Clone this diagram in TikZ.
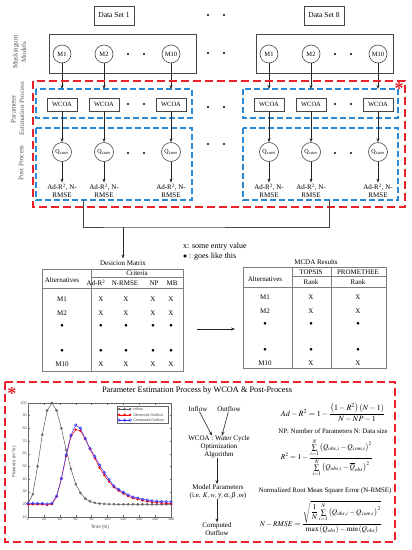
\documentclass[tikz,border=0pt]{standalone}
\usepackage{amsmath}
\usepackage{mathptmx}
\usepackage{fontspec}
\setmainfont{Liberation Serif}
\newfontfamily\plotfont{Liberation Sans}
\usetikzlibrary{arrows.meta,positioning,plotmarks}

\definecolor{dashred}{RGB}{232,34,40}
\definecolor{dashblue}{RGB}{40,138,214}
\definecolor{linegray}{RGB}{70,70,70}
\definecolor{tabgray}{RGB}{125,125,125}

\tikzset{
  gbox/.style={draw=linegray, line width=0.7pt},
  dsbox/.style={gbox, minimum width=40pt, minimum height=19pt, inner sep=0pt, font=\fontsize{7.5}{8}\selectfont},
  mcirc/.style={circle, draw=linegray, line width=0.6pt, minimum size=18pt, inner sep=0pt, font=\fontsize{6.5}{7}\selectfont},
  qcirc/.style={mcirc, minimum size=19pt, font=\fontsize{6}{7}\selectfont},
  wbox/.style={gbox, minimum width=30pt, minimum height=13pt, inner sep=0pt, font=\fontsize{6.5}{7}\selectfont},
  res/.style={align=center, font=\fontsize{7}{7.5}\selectfont, inner sep=1pt},
  arr/.style={-{Stealth[length=4pt,width=3pt]}, line width=0.6pt, draw=black!85},
  conn/.style={line width=0.6pt, draw=linegray},
  reddash/.style={draw=dashred, line width=1.3pt, dash pattern=on 8pt off 4pt},
  bluedash/.style={draw=dashblue, line width=1.1pt, dash pattern=on 6pt off 3pt},
  side/.style={rotate=90, align=center, text=black!65, font=\fontsize{7}{8.5}\selectfont},
  tab/.style={font=\fontsize{7}{8}\selectfont, inner sep=0pt},
  tline/.style={draw=tabgray, line width=1pt},
  txt/.style={font=\fontsize{7}{8}\selectfont, align=center, inner sep=0pt},
  formula/.style={font=\fontsize{7.4}{8}\selectfont, inner sep=0pt},
  plotlab/.style={font=\plotfont\fontsize{3.7}{4}\selectfont, text=black!70, inner sep=1pt},
  star/.style={text=dashred, font=\fontsize{18}{18}\selectfont\bfseries, inner sep=0pt},
}

\begin{document}
\begin{tikzpicture}[x=1pt,y=-1pt]
\useasboundingbox (0,0) rectangle (412,550);

% side labels
\node[side] at (19.5,52) {Muskingum\\Models};
\node[side] at (17.5,109) {Parameter\\Estimation Process};
\node[side] at (21,163) {Post Process};

% two data sets
\foreach \s/\dx/\bl/\br/\pl/\pr/\ds/\dsx in {a/0/49/196/36/192/1/114, b/207/256/393/243/398/8/324}{
  \node[dsbox] (ds\s) at (\dsx,15.5) {Data Set \ds};
  \draw[gbox] (\bl,34) rectangle (\br,73);
  \draw[bluedash] (\pl,89) rectangle (\pr,118);
  \draw[bluedash] (\pl,128) rectangle (\pr,200);
  \coordinate (pe\s) at (\pl,89);
  \foreach \k/\x in {1/62,2/104,10/171}{
    \node[mcirc] (m\k\s) at (\x+\dx,54) {M\k};
    \node[wbox] (w\k\s) at (\x+\dx,104.5) {WCOA};
    \node[qcirc] (q\k\s) at (\x+\dx,152) {Q$_{com}$};
    \node[res] (r\k\s) at (\x+\dx,190.5) {Ad-R$^2$, N-\\RMSE};
    \draw[arr] (m\k\s) -- (m\k\s |- pe\s);
    \draw[arr] (w\k\s) -- (q\k\s);
    \draw[arr] (q\k\s) -- (r\k\s);
  }
  \foreach \y in {54,104,153}{
    \fill (128+\dx,\y) circle (1.2pt);
    \fill (144+\dx,\y) circle (1.2pt);
  }
}
\foreach \y in {15,53,107,144}{
  \fill (208,\y) circle (1.2pt);
  \fill (224,\y) circle (1.2pt);
}
\draw[reddash] (33,81) rectangle (405,207);
\node[star] at (399,88.5) {*};

%%%% to the decision matrix
\coordinate (pbl) at (83,200);
\coordinate (pbr) at (329,200);
\coordinate (jn) at (123,227);
\node[tab] (dmlab) at (123,263) {Desicion Matrix};
\draw[conn] (pbl) |- (jn) -| (pbr);
\draw[arr] (jn) -- ([yshift=2pt]dmlab.north);

\node[font=\fontsize{8}{9.5}\selectfont, align=left, anchor=west, inner sep=0pt] at (183,251.5) {x: some entry value\\$\bullet$ : goes like this};

% decision matrix
\node[draw=tabgray, line width=1pt, minimum width=141pt, minimum height=102pt, inner sep=0pt] (dmat) at (112.5,320) {};
\draw[tline] (91,269) -- (91,371);
\draw[tline] (91,277) -- (183,277);
\draw[tline] (42,288) -- (183,288);
\node[tab] at (62,280) {Alternatives};
\node[tab] at (137,273) {Criteria};
\foreach \x/\h in {96/Ad-R$^2$, 125/N-RMSE, 154/NP, 172/MB}
  \node[tab] at (\x,283) {\h};
\foreach \y/\a/\v in {299/M1/X, 313/M2/X, 326/$\bullet$/$\bullet$, 351/$\bullet$/$\bullet$, 364/M10/X}{
  \node[tab] at (62,\y) {\a};
  \foreach \x in {101,126,153,171}
    \node[tab] at (\x,\y) {\v};
}

% MCDA results
\node[tab] (mclab) at (316,262) {MCDA Results};
\node[draw=tabgray, line width=1pt, minimum width=143pt, minimum height=101pt, inner sep=0pt] (mcda) at (314.5,317.5) {};
\draw[tline] (292,267) -- (292,368);
\draw[tline] (331,267) -- (331,368);
\draw[tline] (292,276) -- (386,276);
\draw[tline] (243,287) -- (386,287);
\node[tab] at (265,279) {Alternatives};
\node[tab] at (311,272) {TOPSIS};
\node[tab] at (358,272) {PROMETHEE};
\node[tab] at (311,282) {Rank};
\node[tab] at (358,282) {Rank};
\foreach \y/\a/\v in {297/M1/X, 311/M2/X, 324/$\bullet$/$\bullet$, 350/$\bullet$/$\bullet$, 363/M10/X}{
  \node[tab] at (265,\y) {\a};
  \node[tab] at (311,\y) {\v};
  \node[tab] at (358,\y) {\v};
}
\coordinate (ta) at (197,329);
\coordinate (tb) at (235,329);
\draw[arr] (ta) -- (tb);

%%%% parameter estimation process
\draw[reddash] (5,382) rectangle (395,542);
\node[star] at (12,393.5) {*};
\node[font=\fontsize{8.3}{9}\selectfont, inner sep=0pt] (pet) at (197,391) {Parameter Estimation Process by WCOA \& Post-Process};

% hydrograph
\begin{scope}[shift={(28,529.67)}, x=0.795pt, y=1.267pt]
\draw[black!60, line width=0.4pt] (0,10) rectangle (180,100);
\foreach \t in {0,20,...,180}{
  \draw[black!60, line width=0.3pt] (\t,10) -- (\t,11.5) (\t,100) -- (\t,98.5);
  \node[plotlab, below] at (\t,10) {\t};
}
\foreach \v in {10,20,...,100}{
  \draw[black!60, line width=0.3pt] (0,\v) -- (2,\v) (180,\v) -- (178,\v);
  \node[plotlab, left] at (0,\v) {\v};
}
\draw[black!65, line width=0.5pt] plot[mark=o, mark size=1.1pt] coordinates {(0,20.5) (6,28) (12,50) (18,75) (24,94) (30,100) (36,94) (42,80) (48,63) (54,48) (60,36) (66,29) (72,24.5) (78,22.3) (84,21.2) (90,20.6) (96,20.3) (102,20.2) (108,20.1) (114,20) (120,20) (126,20) (132,20) (138,20) (144,20) (150,20) (156,20) (162,20) (168,20) (174,20) (180,20)};
\draw[red, line width=0.5pt] plot[mark=*, mark size=0.9pt] coordinates {(0,20) (6,20) (12,20) (18,20) (24,19.5) (30,20) (36,26) (42,40) (48,58) (54,73.5) (60,79) (66,78) (72,71.5) (78,63.5) (84,56.5) (90,49) (96,43) (102,38) (108,33.5) (114,30.8) (120,28.5) (126,26.4) (132,24.8) (138,24) (144,23) (150,22.4) (156,21.8) (162,21.3) (168,21) (174,20.8) (180,20.6)};
\draw[blue!80, line width=0.5pt] plot[mark=o, mark size=1.3pt] coordinates {(0,20.8) (6,20.8) (12,20.7) (18,20.6) (24,20.3) (30,20.8) (36,26.5) (42,40.5) (48,59) (54,74.5) (60,82.6) (66,80) (72,72) (78,64) (84,58) (90,51) (96,45) (102,39.5) (108,34.5) (114,31.7) (120,29.5) (126,27.4) (132,25.8) (138,25) (144,24) (150,23.4) (156,22.8) (162,22.4) (168,22.1) (174,22) (180,22)};
% legend
\draw[black!60, line width=0.3pt, fill=white] (112,84.2) rectangle (176,97.6);
\draw[black!65, line width=0.5pt] plot[mark=o, mark size=1.1pt] coordinates {(114.5,95.2) (121.5,95.2) (128.5,95.2)};
\draw[red, line width=0.5pt] plot[mark=*, mark size=0.9pt] coordinates {(114.5,90.7) (121.5,90.7) (128.5,90.7)};
\draw[blue!80, line width=0.5pt] plot[mark=o, mark size=1.3pt] coordinates {(114.5,86.5) (121.5,86.5) (128.5,86.5)};
\node[plotlab, anchor=west] at (131,95.2) {Inflow};
\node[plotlab, anchor=west] at (131,90.7) {Observed Outflow};
\node[plotlab, anchor=west] at (131,86.5) {Computed Outflow};
\end{scope}
\node[plotlab, font=\plotfont\fontsize{4.6}{5}\selectfont] at (100,527) {Time (hr)};
\node[plotlab, font=\plotfont\fontsize{4.6}{5}\selectfont, rotate=90] at (14,462) {Flowrate (m$^3$/s)};

% flow of the method
\node[txt] (inf) at (198,409) {Inflow};
\node[txt] (outf) at (229,409) {Outflow};
\node[txt] (wcoa) at (219,447) {WCOA : Water Cycle\\Optimization\\Algorithm};
\node[txt] (mpar) at (218,491.5) {Model Parameters\\(i.e. $K, w, \gamma, \alpha, \beta, m$)};
\node[txt] (cout) at (217,529) {Computed\\Outflow};
\draw[arr] (inf) -- ([xshift=-7pt]wcoa.north);
\draw[arr] (outf) -- ([xshift=3pt]wcoa.north);
\draw[arr] (wcoa.south -| cout) -- (mpar.north -| cout);
\draw[arr] (mpar.south -| cout) -- (cout);

% formulas
\node[formula, font=\fontsize{8}{9}\selectfont] (adr) at (333,413) {$Ad-R^2=1-\dfrac{\left(1-R^2\right)\left(N-1\right)}{N-NP-1}$};
\node[txt, font=\fontsize{6.8}{8}\selectfont] (npn) at (333,431.5) {NP: Number of Parameters N: Data size};
\node[formula] (rsq) at (327,457.8) {$R^2=1-\dfrac{\sum\limits_{i=1}^{N}\left(Q_{obs,i}-Q_{com,i}\right)^2}{\sum\limits_{i=1}^{N}\left(Q_{obs,i}-\overline{Q}_{obs}\right)^2}$};
\node[txt, font=\fontsize{6.8}{8}\selectfont] (nrl) at (325,490.5) {Normalized Root Mean Square Error (N-RMSE)};
\node[formula] (nrm) at (321,517) {$N-RMSE=\dfrac{\sqrt{\dfrac{1}{N}\sum\limits_{i=1}^{N}\left(Q_{obs,i}-Q_{com,i}\right)^2}}{\max\left(Q_{obs}\right)-\min\left(Q_{obs}\right)}$};
\end{tikzpicture}
\end{document}
